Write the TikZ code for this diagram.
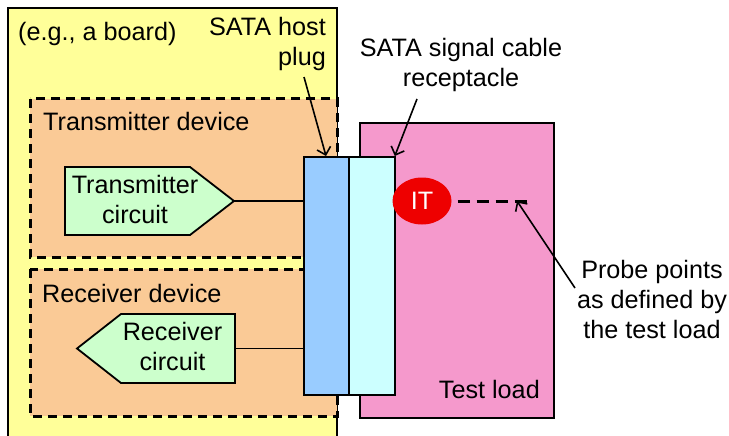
\documentclass[tikz,border=0pt]{standalone}
\usepackage{fontspec}
\setmainfont{Liberation Sans}
\usetikzlibrary{arrows.meta,shapes.geometric}
\definecolor{boardyellow}{HTML}{FFFF99}
\definecolor{devorange}{HTML}{FACA96}
\definecolor{circgreen}{HTML}{CCFFCC}
\definecolor{plugblue}{HTML}{99CCFF}
\definecolor{reccyan}{HTML}{CCFFFF}
\definecolor{loadpink}{HTML}{F599CC}
\definecolor{itred}{HTML}{EE0000}
\tikzset{
  box/.style={draw=black, line width=1.8pt, inner sep=0pt, anchor=north west},
  devbox/.style={draw=black, line width=3pt, dash pattern=on 9pt off 6pt, fill=devorange},
  lbl/.style={font=\fontsize{25.2}{30}\selectfont, inner sep=0pt},
  circ/.style={draw=black, line width=1.8pt, fill=circgreen, line join=miter},
  wire/.style={draw=black, line width=1.6pt},
  arr/.style={line width=1.6pt, -{Straight Barb[length=7pt,width=14pt,line width=1.6pt]}},
  probeline/.style={line width=3pt, dash pattern=on 12pt off 7pt}
}
\begin{document}
\begin{tikzpicture}[x=1pt,y=-1pt]
\useasboundingbox (0,0) rectangle (729,436);
% board
\draw[line width=1.8pt, fill=boardyellow] (8,450) -- (8,8) -- (337,8) -- (337,450);
\node[lbl, anchor=base west] (board) at (18,41) {(e.g., a board)};
% devices
\draw[devbox] (30,99) rectangle (337,257);
\draw[devbox] (30,269) rectangle (337,416);
\node[lbl, anchor=base west] (txdev) at (43,130) {Transmitter device};
\node[lbl, anchor=base west] (rxdev) at (42,302) {Receiver device};
% test load
\node[box, fill=loadpink, minimum width=194pt, minimum height=295pt] (load) at (359,122) {};
\node[lbl, anchor=base east] (loadlbl) at (540,398) {Test load};
% circuits
\draw[circ] (65,167) -- (190,167) -- (234,201) -- (190,235) -- (65,235) -- cycle;
\coordinate (txtip) at (234,201);
\node[lbl, align=center] (txc) at (135,199) {Transmitter\\circuit};
\draw[circ] (235,314) -- (121,314) -- (77,348.5) -- (121,383) -- (235,383) -- cycle;
\coordinate (rxend) at (235,348.5);
\node[lbl, align=center] (rxc) at (172.5,346) {Receiver\\circuit};
% plug and receptacle
\node[box, fill=plugblue, minimum width=45pt, minimum height=238pt] (plug) at (303,156) {};
\node[box, fill=reccyan, minimum width=46pt, minimum height=238pt] (rec) at (348,156) {};
\draw[wire] (txtip) -- (txtip -| plug.west);
\draw[wire] (rxend) -- (rxend -| plug.west);
% IT
\node[ellipse, fill=itred, minimum width=59pt, minimum height=47pt, inner sep=0pt,
      font=\fontsize{25.2}{30}\selectfont, text=white] (IT) at (422,201) {IT};
\coordinate (pend) at (531,201);
\coordinate (ptgt) at (517,201);
\draw[probeline] ([xshift=6pt]IT.east) -- (pend);
% labels
\node[lbl, align=right, anchor=east] (hostlbl) at (326,43.6) {SATA host\\plug};
\node[lbl, align=center] (reclbl) at (461,65.3) {SATA signal cable\\receptacle};
\node[lbl, align=center] (probelbl) at (652,299) {Probe points\\as defined by\\the test load};
\coordinate (hostS) at (304,77);
\coordinate (recS) at (417,99);
\coordinate (probeS) at (575,288);
\draw[arr] (hostS) -- ([xshift=23pt]plug.north west);
\draw[arr] (recS) -- ([xshift=-1pt]rec.north east);
\draw[arr] (probeS) -- (ptgt);
\end{tikzpicture}
\end{document}
